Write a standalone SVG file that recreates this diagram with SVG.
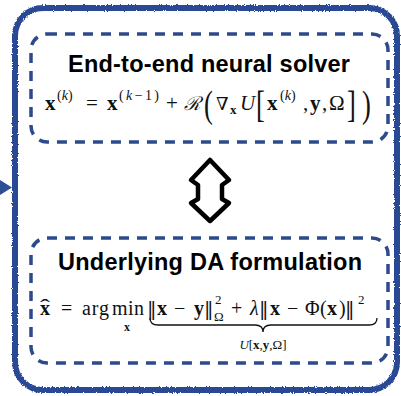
<svg xmlns="http://www.w3.org/2000/svg" width="401" height="396" viewBox="0 0 401 396">
<defs>
<filter id="rough" x="-5%" y="-5%" width="110%" height="110%">
<feTurbulence type="fractalNoise" baseFrequency="0.9" numOctaves="2" seed="4" result="n"/>
<feDisplacementMap in="SourceGraphic" in2="n" scale="3" xChannelSelector="R" yChannelSelector="G"/>
</filter>
</defs>
<style>
.frame{fill:none;stroke:#2c4a94;stroke-width:6}
.dash{fill:none;stroke:#2d4a8c;stroke-width:3.5;stroke-dasharray:10 8}
.h{font-family:"Liberation Sans",Arial,sans-serif;font-weight:bold;font-size:23.5px;text-anchor:middle;fill:#000}
.m{font-family:"Liberation Serif","DejaVu Serif",serif;font-size:21px;fill:#111}
.m2{font-family:"Liberation Serif","DejaVu Serif",serif;font-size:20px;fill:#111}
.nm{font-family:"DejaVu Serif",serif;font-size:19px;fill:#111}
.s{font-size:14px}
.ss{font-size:13px}
.b{font-weight:bold}
.i{font-style:italic}
.big{font-family:"Liberation Serif","DejaVu Serif",serif;font-size:38px;fill:#111}
</style>

<g id="frame">
<rect class="frame" x="15" y="8" width="382" height="382" rx="28" filter="url(#rough)"/>
</g>

<g id="connectors">
<polygon points="0,180 12,187.5 0,195" fill="#2f4e98"/>
<path d="M210,160 L229,180 L222,185 L222,199 L229,203 L210,221 L191,203 L198,199 L198,185 L191,180 Z" fill="#fff" stroke="#000" stroke-width="4.5" stroke-linejoin="round"/>
</g>

<g id="solver">
<rect class="dash" x="31" y="34" width="357" height="108" rx="16"/>
<text class="h" x="209" y="72" textLength="282">End-to-end neural solver</text>
<text class="m b" x="45" y="110">x</text>
<text class="m s" x="57" y="100">(<tspan class="i">k</tspan>)</text>
<text class="m" x="86" y="110">=</text>
<text class="m b" x="107" y="110">x</text>
<text class="m s" x="119" y="100" textLength="40">(<tspan class="i">k</tspan>−1)</text>
<text class="m" x="166" y="110">+</text>
<text x="184" y="110" style="font-family:'DejaVu Serif',serif;font-style:italic;font-size:19px;fill:#111">ℛ</text>
<text class="big" transform="translate(204,117) scale(0.7,1)">(</text>
<text x="216" y="110" style="font-family:'DejaVu Serif',serif;font-size:18px;fill:#111">∇</text>
<text class="m b ss" x="230" y="114">x</text>
<text class="m i" x="240" y="110">U</text>
<text class="big" transform="translate(256,117) scale(0.7,1)">[</text>
<text class="m b" x="267" y="110">x</text>
<text class="m s" x="280" y="100">(<tspan class="i">k</tspan>)</text>
<text class="m" x="303" y="110">,</text>
<text class="m b" x="310" y="110">y</text>
<text class="m" x="322" y="110">,</text>
<text class="m" x="329" y="110">Ω</text>
<text class="big" transform="translate(347,117) scale(0.7,1)">]</text>
<text class="big" transform="translate(362,117) scale(0.7,1)">)</text>
</g>

<g id="da">
<rect class="dash" x="31" y="238" width="357" height="125" rx="16"/>
<text class="h" x="210" y="270" textLength="304">Underlying DA formulation</text>
<text class="m2 b" x="40" y="315">x</text>
<text class="m2" transform="translate(40,314) scale(1.5,1)" x="0" y="0">ˆ</text>
<text class="m2" x="61" y="315">=</text>
<text class="m2" x="82" y="315" textLength="27">arg</text>
<text class="m2" x="112" y="315" textLength="32">min</text>
<text class="m2 b" x="124" y="331" style="font-size:12px">x</text>
<text class="nm" x="147" y="315">‖</text>
<text class="m2 b" x="157" y="315">x</text>
<text class="m2" x="174" y="315">−</text>
<text class="m2 b" x="194" y="315">y</text>
<text class="nm" x="204" y="315">‖</text>
<text class="m2 ss" x="215" y="304">2</text>
<text class="m2 ss" x="214" y="321">Ω</text>
<text class="m2" x="231" y="315">+</text>
<text class="m2 i" x="250" y="315">λ</text>
<text class="nm" x="259" y="315">‖</text>
<text class="m2 b" x="270" y="315">x</text>
<text class="m2" x="287" y="315">−</text>
<text class="m2" x="305" y="315">Φ</text>
<text class="m2" x="320" y="315">(</text>
<text class="m2 b" x="327" y="315">x</text>
<text class="m2" x="339" y="315">)</text>
<text class="nm" x="345" y="315">‖</text>
<text class="m2 ss" x="358" y="304">2</text>
<path d="M150,318 Q150,325 158,325 L255,325 Q263,325 263,332 Q263,325 271,325 L369,325 Q377,325 377,318" fill="none" stroke="#111" stroke-width="1.3"/>
<text class="m2 ss" x="263" y="349" text-anchor="middle"><tspan class="i">U</tspan>[<tspan class="b">x</tspan>,<tspan class="b">y</tspan>,Ω]</text>
</g>
</svg>
